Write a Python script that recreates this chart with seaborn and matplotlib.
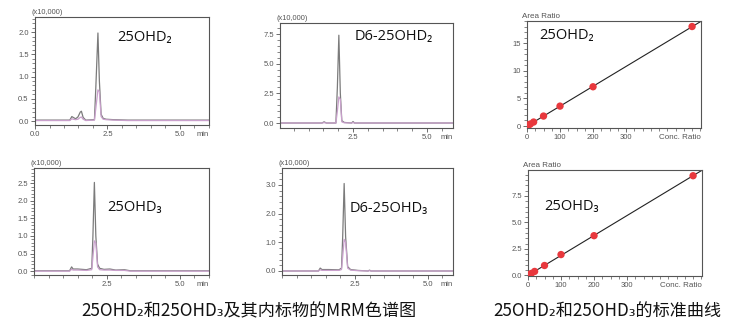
import numpy as np
import pandas as pd
import matplotlib
matplotlib.use("Agg")
import matplotlib.pyplot as plt
from matplotlib.ticker import MultipleLocator, FixedLocator, FixedFormatter
import seaborn as sns

# ---------------- data ----------------
# Chromatogram 25OHD2 (x10,000)
t_d2 = [0.0, 1.20, 1.27, 1.32, 1.40, 1.48, 1.56, 1.60, 1.66, 1.75, 2.05, 2.10, 2.17, 2.22, 2.28, 2.35, 2.45, 2.70, 3.20, 6.0]
y_d2_main = [0.02, 0.02, 0.10, 0.08, 0.05, 0.09, 0.20, 0.22, 0.08, 0.02, 0.03, 0.80, 1.98, 0.90, 0.15, 0.06, 0.04, 0.03, 0.02, 0.02]
y_d2_sub = [0.01, 0.01, 0.05, 0.04, 0.03, 0.04, 0.08, 0.09, 0.04, 0.01, 0.02, 0.30, 0.70, 0.66, 0.10, 0.04, 0.03, 0.02, 0.01, 0.01]

# Chromatogram D6-25OHD2 (x10,000)
t_d6d2 = [0.0, 1.45, 1.52, 1.60, 1.92, 1.97, 2.02, 2.07, 2.12, 2.20, 2.45, 2.50, 2.55, 6.0]
y_d6d2_main = [0.0, 0.0, 0.10, 0.0, 0.0, 3.0, 7.40, 2.5, 0.20, 0.05, 0.0, 0.12, 0.0, 0.0]
y_d6d2_sub = [0.0, 0.0, 0.03, 0.0, 0.0, 1.0, 2.20, 2.0, 0.10, 0.02, 0.0, 0.04, 0.0, 0.0]

# Chromatogram 25OHD3 (x10,000)
t_d3 = [0.0, 1.22, 1.29, 1.34, 1.50, 1.80, 1.98, 2.02, 2.07, 2.12, 2.18, 2.25, 2.40, 2.60, 2.80, 3.10, 3.30, 6.0]
y_d3_main = [0.01, 0.01, 0.12, 0.06, 0.06, 0.04, 0.08, 1.00, 2.52, 1.00, 0.20, 0.08, 0.05, 0.06, 0.03, 0.04, 0.01, 0.01]
y_d3_sub = [0.0, 0.0, 0.05, 0.03, 0.03, 0.02, 0.04, 0.40, 0.86, 0.80, 0.12, 0.04, 0.03, 0.03, 0.02, 0.02, 0.0, 0.0]

# Chromatogram D6-25OHD3 (x10,000)
t_d6d3 = [0.0, 1.25, 1.31, 1.37, 1.60, 1.95, 2.04, 2.08, 2.13, 2.18, 2.25, 2.35, 2.60, 2.95, 3.00, 3.05, 6.0]
y_d6d3_main = [0.0, 0.0, 0.10, 0.05, 0.05, 0.04, 0.10, 1.20, 3.05, 1.20, 0.15, 0.05, 0.02, 0.0, 0.03, 0.0, 0.0]
y_d6d3_sub = [0.0, 0.0, 0.04, 0.02, 0.02, 0.02, 0.05, 0.50, 1.10, 1.00, 0.10, 0.03, 0.01, 0.0, 0.01, 0.0, 0.0]

# Calibration curves
conc = [0, 5, 10, 20, 50, 100, 200, 500]
ratio_d2 = [0.0, 0.18, 0.36, 0.72, 1.80, 3.60, 7.10, 18.0]
ratio_d3 = [0.0, 0.09, 0.19, 0.38, 0.94, 1.97, 3.75, 9.40]

panel_labels = ["25OHD\u2082", "D6-25OHD\u2082", "25OHD\u2082", "25OHD\u2083", "D6-25OHD\u2083", "25OHD\u2083"]
caption_left = "25OHD\u2082和25OHD\u2083及其内标物的MRM色谱图"
caption_right = "25OHD\u2082和25OHD\u2083的标准曲线"

# ---------------- style ----------------
sns.set_style("ticks")
plt.rcParams["font.family"] = ["Liberation Sans", "DejaVu Sans"]
plt.rcParams["axes.edgecolor"] = "#555555"
plt.rcParams["axes.linewidth"] = 0.8

W, H = 739, 333
fig = plt.figure(figsize=(W / 100, H / 100), dpi=100)
fig.patch.set_facecolor("white")

def box(l, r, t, b):
    return [l / W, 1 - b / H, (r - l) / W, (b - t) / H]

MAIN = "#7b7b7b"
SUB = "#c9a0cc"
TICKC = "#555555"
LABFS = 10.5

def style_axes(ax):
    for s in ax.spines.values():
        s.set_visible(True)
        s.set_color("#555555")
        s.set_linewidth(0.8)
    ax.tick_params(which="major", direction="out", length=3, width=0.6, color="#555555",
                   labelsize=5.5, labelcolor=TICKC, pad=1.5)
    ax.tick_params(which="minor", direction="out", length=2, width=0.5, color="#555555")
    ax.set_xlabel("")
    ax.set_ylabel("")

def chrom(ax, t, ymain, ysub, xlim, ylim, ymaj, ymin_step, ylabels_fmt, xlabels, label, lx, ly):
    sns.lineplot(x=t, y=ymain, ax=ax, color=MAIN, linewidth=0.9, sort=False, estimator=None)
    sns.lineplot(x=t, y=ysub, ax=ax, color=SUB, linewidth=0.9, sort=False, estimator=None)
    ax.set_xlim(*xlim)
    ax.set_ylim(*ylim)
    style_axes(ax)
    ax.xaxis.set_major_locator(FixedLocator([v for v, _ in xlabels]))
    ax.xaxis.set_major_formatter(FixedFormatter([s for _, s in xlabels]))
    ax.xaxis.set_minor_locator(MultipleLocator(0.5))
    ax.yaxis.set_major_locator(MultipleLocator(ymaj))
    ax.yaxis.set_minor_locator(MultipleLocator(ymin_step))
    ax.yaxis.set_major_formatter(plt.FuncFormatter(lambda v, p: ylabels_fmt.format(v)))
    ax.text(-0.02, 1.005, "(x10,000)", transform=ax.transAxes, fontsize=5.3, color=TICKC,
            ha="left", va="bottom")
    ax.text(0.965, -0.055, "min", transform=ax.transAxes, fontsize=5.5, color=TICKC,
            ha="center", va="top")
    ax.text(lx, ly, label, transform=ax.transAxes, fontsize=LABFS,
            family=["Open Sans", "DejaVu Sans"], color="#111111", ha="left", va="center")

def calib(ax, ratio, xlim, ylim, ymaj, ymin_step, yfmt, label, lx, ly):
    ax.set_xlim(*xlim)
    ax.set_ylim(*ylim)
    sns.regplot(x=conc, y=ratio, ax=ax, scatter=False, ci=None, truncate=False,
                line_kws=dict(color="#222222", linewidth=0.8))
    sns.scatterplot(x=conc, y=ratio, ax=ax, color="#e8383d", s=28, edgecolor="none", zorder=5)
    ax.set_xlim(*xlim)
    ax.set_ylim(*ylim)
    style_axes(ax)
    ax.xaxis.set_major_locator(FixedLocator([0, 100, 200, 300]))
    ax.xaxis.set_minor_locator(MultipleLocator(25))
    ax.yaxis.set_major_locator(MultipleLocator(ymaj))
    ax.yaxis.set_minor_locator(MultipleLocator(ymin_step))
    ax.yaxis.set_major_formatter(plt.FuncFormatter(lambda v, p: yfmt.format(v)))
    ax.text(-0.03, 1.01, "Area Ratio", transform=ax.transAxes, fontsize=5.8, color=TICKC,
            ha="left", va="bottom")
    ax.text(1.0, -0.055, "Conc. Ratio", transform=ax.transAxes, fontsize=5.8, color=TICKC,
            ha="right", va="top")
    ax.text(lx, ly, label, transform=ax.transAxes, fontsize=LABFS,
            family=["Open Sans", "DejaVu Sans"], color="#111111", ha="left", va="center")

ax1 = fig.add_axes(box(35, 209, 17, 125))
chrom(ax1, t_d2, y_d2_main, y_d2_sub, (0, 6.0), (-0.09, 2.34), 0.5, 0.1, "{:.1f}",
      [(0, "0.0"), (2.5, "2.5"), (5.0, "5.0")], panel_labels[0], 0.475, 0.81)

ax2 = fig.add_axes(box(280, 453, 23, 128))
chrom(ax2, t_d6d2, y_d6d2_main, y_d6d2_sub, (0.03, 5.88), (-0.42, 8.43), 2.5, 0.5, "{:.1f}",
      [(2.5, "2.5"), (5.0, "5.0")], panel_labels[1], 0.43, 0.87)

ax3 = fig.add_axes(box(527, 701, 21, 128))
calib(ax3, ratio_d2, (0, 527), (-0.36, 19.0), 5, 1, "{:.0f}", panel_labels[2], 0.068, 0.86)

ax4 = fig.add_axes(box(34, 209, 168, 275))
chrom(ax4, t_d3, y_d3_main, y_d3_sub, (0, 6.0), (-0.11, 2.93), 0.5, 0.1, "{:.1f}",
      [(2.5, "2.5"), (5.0, "5.0")], panel_labels[3], 0.42, 0.63)

ax5 = fig.add_axes(box(282, 453, 168, 275))
chrom(ax5, t_d6d3, y_d6d3_main, y_d6d3_sub, (0, 5.86), (-0.14, 3.59), 1.0, 0.2, "{:.1f}",
      [(2.5, "2.5"), (5.0, "5.0")], panel_labels[4], 0.395, 0.617)

ax6 = fig.add_axes(box(528, 702, 170, 276))
calib(ax6, ratio_d3, (0, 527), (-0.05, 9.94), 2.5, 0.5, "{:.1f}", panel_labels[5], 0.095, 0.654)

cjk = ["Noto Sans CJK SC", "DejaVu Sans"]
fig.text(249 / W, 1 - 311 / H, caption_left, fontsize=12.3, family=cjk, color="#111111",
         ha="center", va="center")
fig.text(607 / W, 1 - 311 / H, caption_right, fontsize=12.3, family=cjk, color="#111111",
         ha="center", va="center")

fig.savefig("out.png", dpi=100, facecolor="white")
